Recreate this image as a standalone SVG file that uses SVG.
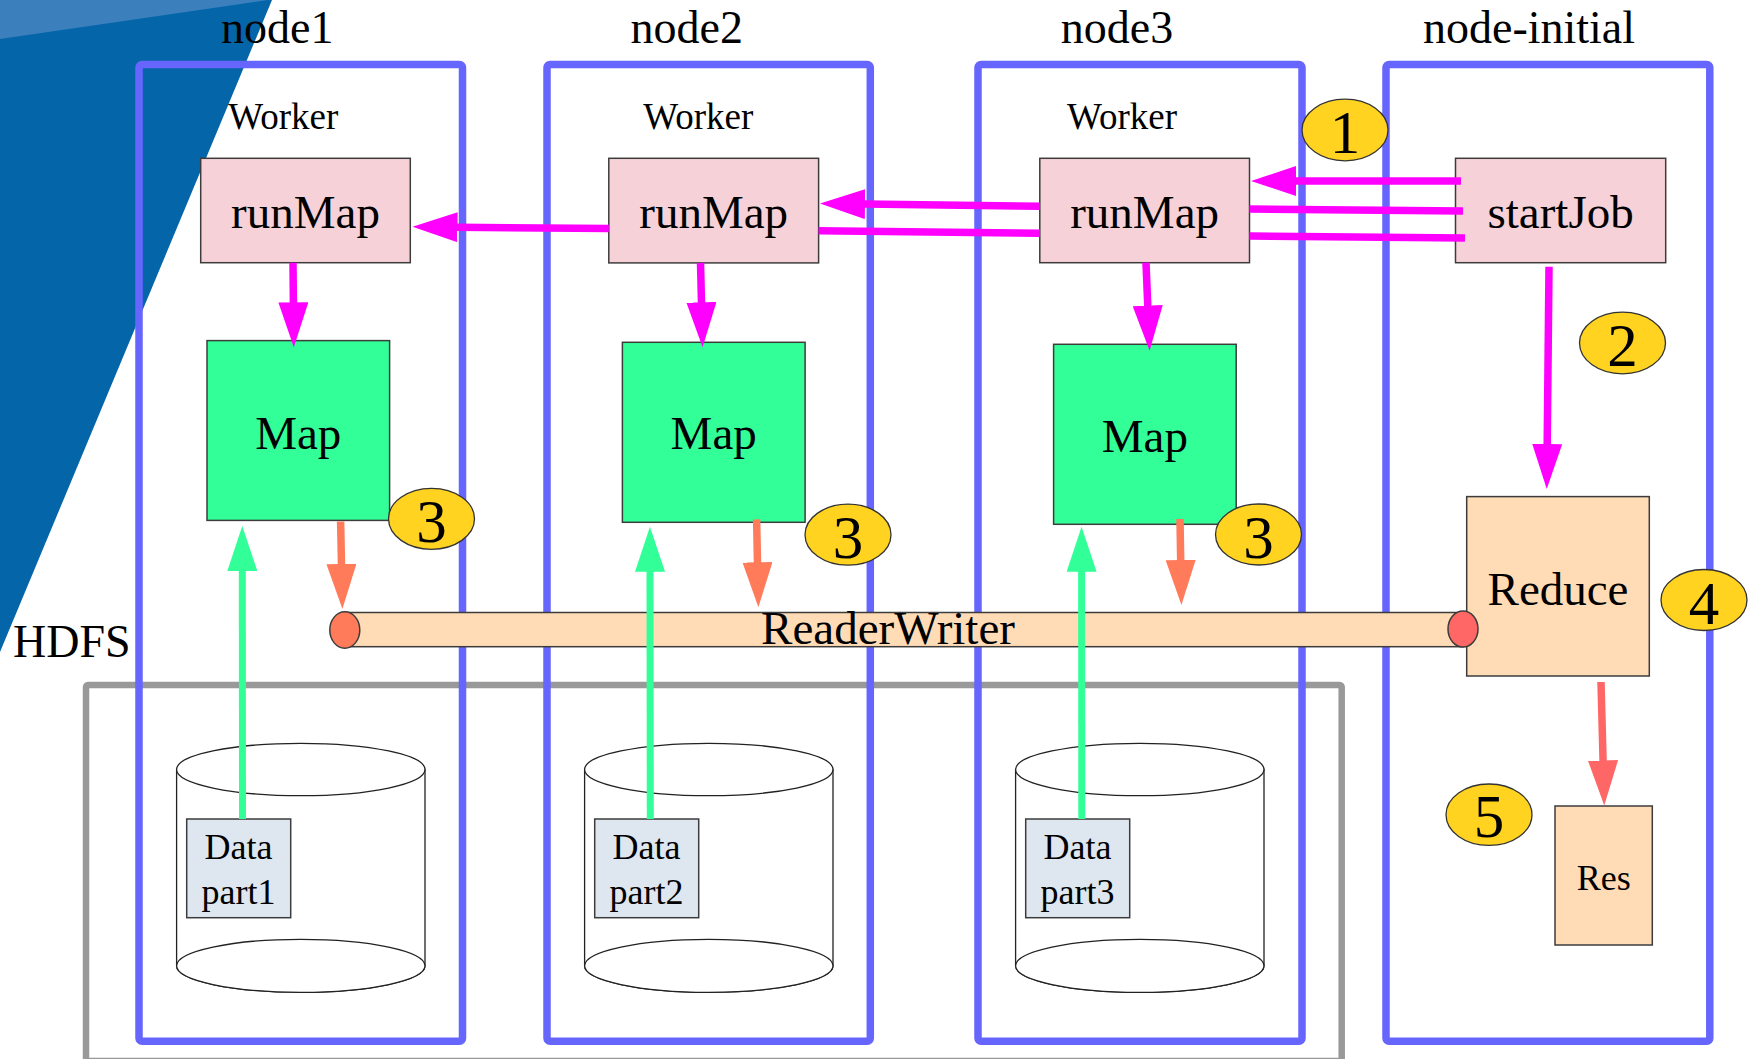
<svg xmlns="http://www.w3.org/2000/svg" width="1751" height="1059" viewBox="0 0 1751 1059">
<defs>
<style>
text{font-family:"Liberation Serif","Times New Roman",serif;fill:#000}
.title{font-size:46px;text-anchor:middle}
.worker{font-size:37px;text-anchor:middle}
.big{font-size:47px;text-anchor:middle}
.small{font-size:36px;text-anchor:middle}
.badge-t{font-size:61px;text-anchor:middle}
.nodebox{fill:none;stroke:#6666ff;stroke-width:7.5}
.pink{fill:#f6d1d7;stroke:#3c3c3c;stroke-width:1.5}
.green{fill:#33ff99;stroke:#3c3c3c;stroke-width:1.5}
.peach{fill:#ffdbb6;stroke:#3c3c3c;stroke-width:1.5}
.data{fill:#dee6ef;stroke:#3c3c3c;stroke-width:1.5}
.badge{fill:#ffd320;stroke:#333;stroke-width:1.3}
.cyl{fill:#fff;stroke:#222;stroke-width:1.3}
.mag{stroke:#ff00ff;stroke-width:7.5;fill:none}
.gr{stroke:#33ff99;stroke-width:7;fill:none}
.or{stroke:#ff7b5a;stroke-width:7.5;fill:none}
.rd{stroke:#ff6666;stroke-width:7.5;fill:none}
</style>
<marker id="hm" viewBox="0 0 45 30" markerWidth="45" markerHeight="30" markerUnits="userSpaceOnUse" refX="1" refY="15" orient="auto"><path d="M0,0 L45,15 L0,30 z" fill="#ff00ff"/></marker>
<marker id="hg" viewBox="0 0 45 30" markerWidth="45" markerHeight="30" markerUnits="userSpaceOnUse" refX="1" refY="15" orient="auto"><path d="M0,0 L45,15 L0,30 z" fill="#33ff99"/></marker>
<marker id="ho" viewBox="0 0 45 30" markerWidth="45" markerHeight="30" markerUnits="userSpaceOnUse" refX="1" refY="15" orient="auto"><path d="M0,0 L45,15 L0,30 z" fill="#ff7b5a"/></marker>
<marker id="hr" viewBox="0 0 45 30" markerWidth="45" markerHeight="30" markerUnits="userSpaceOnUse" refX="1" refY="15" orient="auto"><path d="M0,0 L45,15 L0,30 z" fill="#ff6666"/></marker>
</defs>
<rect x="0" y="0" width="1751" height="1059" fill="#fff"/>
<g id="background">
<polygon points="0,0 272,0 0,652" fill="#0465a9"/>
<polygon points="0,0 268,0 0,39" fill="#3b80bd"/>
</g>
<g id="hdfs">
<rect x="86" y="685" width="1255.7" height="376" fill="none" stroke="#999" stroke-width="6.5" rx="2"/>
<text x="13" y="657.3" style="font-size:46px">HDFS</text>
</g>
<g id="node1">
<rect class="nodebox" x="139" y="64.5" width="323.5" height="976.8" rx="3"/>
<text class="title" x="277.3" y="42.7">node1</text>
<text class="worker" x="283.3" y="129">Worker</text>
</g>
<g id="node2">
<rect class="nodebox" x="547" y="64.5" width="323.3" height="976.8" rx="3"/>
<text class="title" x="686.7" y="42.7">node2</text>
<text class="worker" x="698.3" y="128.5">Worker</text>
</g>
<g id="node3">
<rect class="nodebox" x="978" y="64.5" width="324" height="976.8" rx="3"/>
<text class="title" x="1117" y="42.7">node3</text>
<text class="worker" x="1122" y="128.5">Worker</text>
</g>
<g id="node-initial">
<rect class="nodebox" x="1386" y="64.5" width="323.8" height="976.8" rx="3"/>
<text class="title" x="1529" y="42.7">node-initial</text>
</g>
<g id="disk1">
<path class="cyl" d="M176.6,769.5 L176.6,965.8 A124.2,26.5 0 0 0 425,965.8 L425,769.5 Z"/>
<ellipse class="cyl" cx="300.8" cy="769.5" rx="124.2" ry="26.2"/>
<ellipse class="cyl" cx="300.8" cy="965.8" rx="124.2" ry="26.5"/>
</g>
<g id="disk2">
<path class="cyl" d="M584.6,769.5 L584.6,965.8 A124.2,26.5 0 0 0 833,965.8 L833,769.5 Z"/>
<ellipse class="cyl" cx="708.8" cy="769.5" rx="124.2" ry="26.2"/>
<ellipse class="cyl" cx="708.8" cy="965.8" rx="124.2" ry="26.5"/>
</g>
<g id="disk3">
<path class="cyl" d="M1015.6,769.5 L1015.6,965.8 A124.2,26.5 0 0 0 1264,965.8 L1264,769.5 Z"/>
<ellipse class="cyl" cx="1139.8" cy="769.5" rx="124.2" ry="26.2"/>
<ellipse class="cyl" cx="1139.8" cy="965.8" rx="124.2" ry="26.5"/>
</g>
<g id="data1"><rect class="data" x="186.7" y="819" width="104" height="98.7"/><text class="small" x="238.5" y="859.3">Data</text><text class="small" x="238.5" y="904">part1</text></g>
<g id="data2"><rect class="data" x="594.7" y="819" width="104" height="98.7"/><text class="small" x="646.5" y="859.3">Data</text><text class="small" x="646.5" y="904">part2</text></g>
<g id="data3"><rect class="data" x="1025.7" y="819" width="104" height="98.7"/><text class="small" x="1077.5" y="859.3">Data</text><text class="small" x="1077.5" y="904">part3</text></g>
<g id="runMap1"><rect class="pink" x="200.7" y="158.3" width="209.6" height="104.4"/><text class="big" x="305.5" y="228">runMap</text></g>
<g id="runMap2"><rect class="pink" x="608.8" y="158.3" width="209.8" height="104.6"/><text class="big" x="713.7" y="228">runMap</text></g>
<g id="runMap3"><rect class="pink" x="1039.8" y="158.3" width="209.7" height="104.4"/><text class="big" x="1144.6" y="228">runMap</text></g>
<g id="startJob"><rect class="pink" x="1455.5" y="158.3" width="210.2" height="104.4"/><text class="big" x="1560.6" y="228">startJob</text></g>
<g id="map1"><rect class="green" x="207" y="340.6" width="182.6" height="179.8"/><text class="big" x="298.3" y="449">Map</text></g>
<g id="map2"><rect class="green" x="622.4" y="342.3" width="182.7" height="180"/><text class="big" x="713.7" y="449">Map</text></g>
<g id="map3"><rect class="green" x="1053.6" y="344.3" width="182.6" height="180"/><text class="big" x="1144.9" y="451.7">Map</text></g>
<g id="reduce"><rect class="peach" x="1466.7" y="496.6" width="182.6" height="179.4"/><text class="big" x="1558" y="604.6">Reduce</text></g>
<g id="res"><rect class="peach" x="1555" y="806" width="97.3" height="139"/><text class="small" x="1603.7" y="890">Res</text></g>
<g id="readerwriter">
<rect class="peach" x="345" y="612.5" width="1118" height="34.2"/>
<ellipse cx="344.8" cy="630" rx="15" ry="18.2" fill="#ff7b5a" stroke="#3c3c3c" stroke-width="1.5"/>
<ellipse cx="1463" cy="629" rx="15" ry="18" fill="#ff6666" stroke="#3c3c3c" stroke-width="1.5"/>
<text class="big" x="888" y="644.3">ReaderWriter</text>
</g>
<g id="connectors">
<line class="mag" x1="1461" y1="181" x2="1295" y2="181" marker-end="url(#hm)"/>
<line class="mag" x1="1249.5" y1="209" x2="1463" y2="211"/>
<line class="mag" x1="1249.5" y1="236" x2="1465" y2="238"/>
<line class="mag" x1="1039.8" y1="206.3" x2="864" y2="204.1" marker-end="url(#hm)"/>
<line class="mag" x1="818.6" y1="230.7" x2="1039.8" y2="233.3"/>
<line class="mag" x1="608.8" y1="228.6" x2="456.5" y2="227.2" marker-end="url(#hm)"/>
<line class="mag" x1="293" y1="262.7" x2="293.4" y2="303.3" marker-end="url(#hm)"/>
<line class="mag" x1="700.5" y1="262.9" x2="701.5" y2="303.3" marker-end="url(#hm)"/>
<line class="mag" x1="1146" y1="262.7" x2="1147.8" y2="306.7" marker-end="url(#hm)"/>
<line class="mag" x1="1549" y1="266.7" x2="1547.2" y2="445" marker-end="url(#hm)"/>
<line class="gr" x1="242.5" y1="819" x2="242.3" y2="570" marker-end="url(#hg)"/>
<line class="gr" x1="650.3" y1="819" x2="650" y2="570.7" marker-end="url(#hg)"/>
<line class="gr" x1="1081.8" y1="819" x2="1081.6" y2="570.7" marker-end="url(#hg)"/>
<line class="or" x1="340.6" y1="521.5" x2="341.5" y2="565" marker-end="url(#ho)"/>
<line class="or" x1="756.6" y1="519.3" x2="757.5" y2="563.3" marker-end="url(#ho)"/>
<line class="or" x1="1180" y1="519" x2="1180.7" y2="561" marker-end="url(#ho)"/>
<line class="rd" x1="1601" y1="682" x2="1603.1" y2="761.5" marker-end="url(#hr)"/>
</g>
<g id="badges">
<g id="badge1"><ellipse class="badge" cx="1345" cy="130" rx="43" ry="30.8"/><text class="badge-t" x="1345" y="153">1</text></g>
<g id="badge2"><ellipse class="badge" cx="1622.5" cy="343" rx="43" ry="30.8"/><text class="badge-t" x="1622.5" y="366">2</text></g>
<g id="badge3a"><ellipse class="badge" cx="431.5" cy="518.8" rx="43" ry="30.5"/><text class="badge-t" x="431.5" y="541.7">3</text></g>
<g id="badge3b"><ellipse class="badge" cx="848" cy="534.7" rx="43" ry="30.5"/><text class="badge-t" x="848" y="557.7">3</text></g>
<g id="badge3c"><ellipse class="badge" cx="1258.5" cy="534.5" rx="43" ry="30.5"/><text class="badge-t" x="1258.5" y="557.5">3</text></g>
<g id="badge4"><ellipse class="badge" cx="1704" cy="600" rx="43" ry="30.5"/><text class="badge-t" x="1704" y="624">4</text></g>
<g id="badge5"><ellipse class="badge" cx="1489" cy="814.7" rx="43" ry="30.7"/><text class="badge-t" x="1489" y="837">5</text></g>
</g>
</svg>
